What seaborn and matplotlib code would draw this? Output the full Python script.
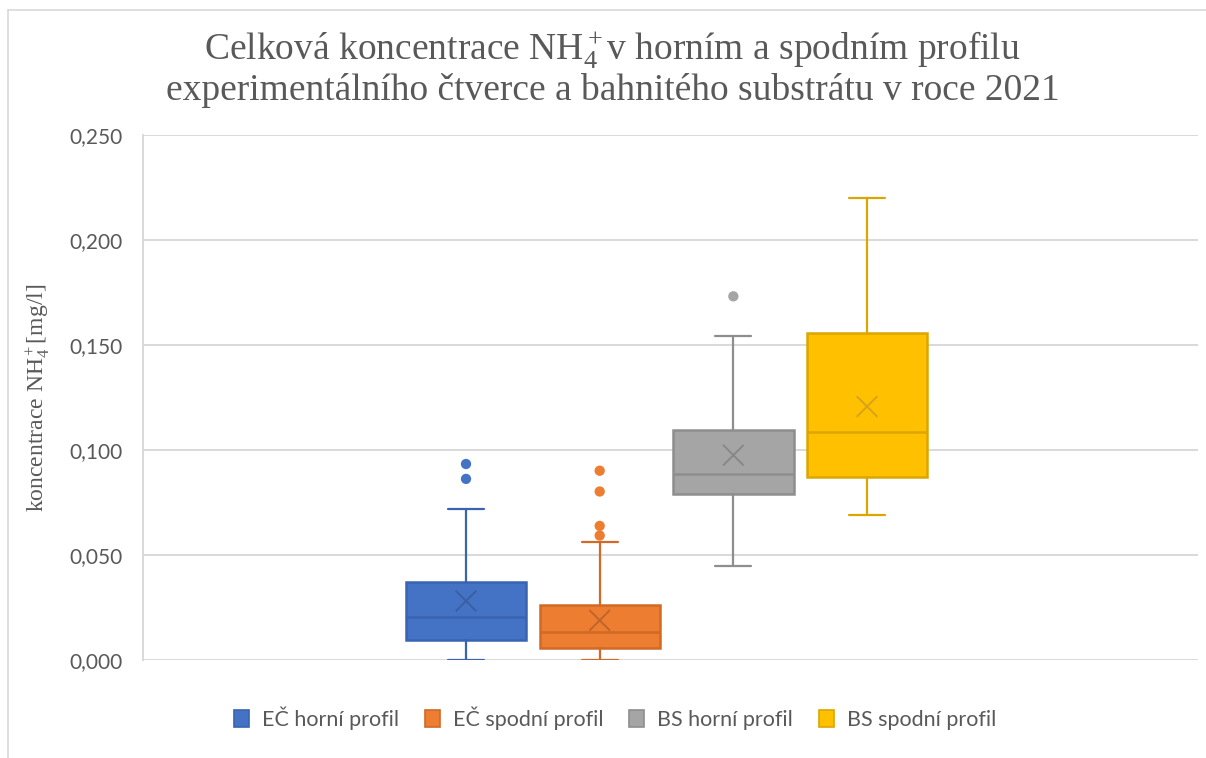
import matplotlib
matplotlib.use("Agg")
import matplotlib.pyplot as plt
from matplotlib.patches import Patch
from matplotlib.lines import Line2D
from matplotlib.ticker import FuncFormatter
import seaborn as sns
import pandas as pd

# summary values
groups = ['EČ horní profil', 'EČ spodní profil', 'BS horní profil', 'BS spodní profil']
whisker_low = [0.000, 0.000, 0.045, 0.069]
q1 = [0.0095, 0.0056, 0.0790, 0.0870]
median = [0.0207, 0.0135, 0.0887, 0.1088]
q3 = [0.0372, 0.0262, 0.1097, 0.1558]
whisker_high = [0.0719, 0.0563, 0.1542, 0.2202]
means = [0.0281, 0.0189, 0.0976, 0.1208]
outliers = [[0.0863, 0.0934], [0.0593, 0.0639, 0.0803, 0.0902], [0.1733], []]

fill_colors = ['#4472C4', '#ED7D31', '#A5A5A5', '#FFC000']
edge_colors = ['#3A64B0', '#D06A26', '#8E8E8E', '#DCA600']
mark_colors = ['#3B5FA3', '#C0652A', '#888888', '#D7A31A']

sns.set_theme(style="white")
plt.rcParams['font.family'] = ['Lato', 'DejaVu Sans']
plt.rcParams['mathtext.fontset'] = 'custom'
plt.rcParams['mathtext.rm'] = 'Liberation Serif'
plt.rcParams['mathtext.it'] = 'Liberation Serif:italic'
plt.rcParams['mathtext.bf'] = 'Liberation Serif:bold'

fig = plt.figure(figsize=(12.06, 7.58), dpi=100)
ax = fig.add_axes([0.1186, 0.1293, 0.8748, 0.6921])

stats = []
for i, g in enumerate(groups):
    stats.append(dict(label=g, whislo=whisker_low[i], q1=q1[i], med=median[i],
                      q3=q3[i], whishi=whisker_high[i], fliers=[]))

positions = list(range(len(groups)))
bp = ax.bxp(stats, positions=positions, widths=0.9, capwidths=0.27,
            patch_artist=True, showfliers=False, manage_ticks=False)
for i in range(len(groups)):
    bp['boxes'][i].set(facecolor=fill_colors[i], edgecolor=edge_colors[i], linewidth=1.8)
    bp['medians'][i].set(color=edge_colors[i], linewidth=1.8)
    for w in bp['whiskers'][2 * i:2 * i + 2]:
        w.set(color=edge_colors[i], linewidth=1.6)
    for c in bp['caps'][2 * i:2 * i + 2]:
        c.set(color=edge_colors[i], linewidth=1.6)

# outliers and means
out_rows = []
for i, g in enumerate(groups):
    for v in outliers[i]:
        out_rows.append({'pos': i, 'value': v, 'group': g})
out_df = pd.DataFrame(out_rows)
sns.scatterplot(data=out_df, x='pos', y='value', hue='group', hue_order=groups,
                palette=dict(zip(groups, fill_colors)), s=55, edgecolor='none',
                legend=False, ax=ax, zorder=3)
mean_df = pd.DataFrame({'pos': positions, 'value': means, 'group': groups})
sns.scatterplot(data=mean_df, x='pos', y='value', hue='group', hue_order=groups,
                palette=dict(zip(groups, mark_colors)), marker='x', s=220,
                linewidth=1.4, legend=False, ax=ax, zorder=4)

ax.set_xlim(-2.416, 5.476)
ax.set_ylim(0, 0.25)
ax.set_yticks([0, 0.05, 0.10, 0.15, 0.20, 0.25])
ax.yaxis.set_major_formatter(FuncFormatter(lambda v, p: f"{v:.3f}".replace('.', ',')))
ax.set_xticks([])
ax.set_xlabel('')
ax.grid(axis='y', color='#D9D9D9', linewidth=1.4)
ax.set_axisbelow(True)
for s in ['top', 'right', 'bottom']:
    ax.spines[s].set_visible(False)
ax.spines['left'].set_color('#D9D9D9')
ax.spines['left'].set_linewidth(1.4)
ax.tick_params(axis='y', labelsize=15, labelcolor='#595959', length=0, pad=15)
ax.set_ylabel('koncentrace NH$_4^+$[mg/l]', family='Liberation Serif',
              fontsize=17, color='#595959', labelpad=12)

fig.text(0.508, 1 - 60 / 758, 'Celková koncentrace NH$_4^+$v horním a spodním profilu',
         ha='center', va='baseline', fontsize=27, family='Liberation Serif', color='#595959')
fig.text(0.508, 1 - 100 / 758, 'experimentálního čtverce a bahnitého substrátu v roce 2021',
         ha='center', va='baseline', fontsize=27, family='Liberation Serif', color='#595959')

handles = [Patch(facecolor=fill_colors[i], edgecolor=edge_colors[i], linewidth=1.2, label=groups[i])
           for i in range(len(groups))]
fig.legend(handles=handles, loc='center', bbox_to_anchor=(0.51, 1 - 718 / 758), ncol=4,
           frameon=False, fontsize=15.5, handlelength=0.7, handleheight=0.8,
           handletextpad=0.6, columnspacing=1.2, labelcolor='#595959')

# outer chart border
fig.add_artist(Line2D([8 / 1206, 8 / 1206], [0, 1 - 10 / 758], color='#D9D9D9', linewidth=1.2))
fig.add_artist(Line2D([8 / 1206, 1], [1 - 10 / 758, 1 - 10 / 758], color='#D9D9D9', linewidth=1.2))

fig.savefig('out.png', dpi=100)
